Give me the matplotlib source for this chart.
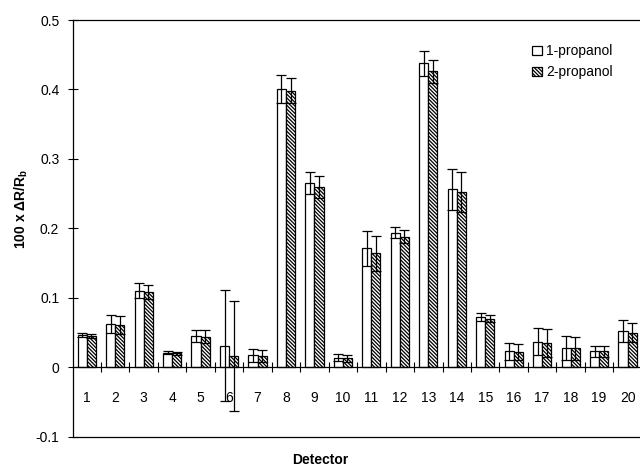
import matplotlib
matplotlib.use("Agg")
import matplotlib.pyplot as plt
import numpy as np

plt.rcParams['font.family'] = ['Liberation Sans', 'DejaVu Sans']
plt.rcParams['hatch.linewidth'] = 0.9
plt.rcParams['mathtext.default'] = 'regular'

detectors = list(range(1, 21))
prop1 = [0.046, 0.062, 0.110, 0.021, 0.045, 0.031, 0.017, 0.401, 0.265, 0.014,
         0.171, 0.194, 0.438, 0.256, 0.072, 0.023, 0.037, 0.028, 0.023, 0.052]
prop1_err = [0.003, 0.013, 0.011, 0.002, 0.009, 0.080, 0.009, 0.020, 0.016, 0.005,
             0.025, 0.008, 0.018, 0.029, 0.006, 0.012, 0.020, 0.017, 0.008, 0.016]
prop2 = [0.045, 0.061, 0.108, 0.020, 0.044, 0.016, 0.016, 0.398, 0.260, 0.013,
         0.164, 0.188, 0.426, 0.252, 0.070, 0.022, 0.035, 0.027, 0.023, 0.050]
prop2_err = [0.003, 0.013, 0.010, 0.002, 0.009, 0.079, 0.009, 0.018, 0.016, 0.005,
             0.025, 0.009, 0.017, 0.029, 0.005, 0.012, 0.020, 0.016, 0.008, 0.014]

fig = plt.figure(figsize=(6.4, 4.71), dpi=100)
ax = fig.add_axes([72.5 / 640, 34.3 / 471, 569.3 / 640, 416.7 / 471])

x = np.array(detectors)
w = 0.32
ax.bar(x - w / 2, prop1, w, color='white', edgecolor='black', linewidth=0.9,
       label='1-propanol', zorder=2)
ax.bar(x + w / 2, prop2, w, color='white', edgecolor='black', linewidth=0.9,
       hatch='\\' * 9, label='2-propanol', zorder=2)
ax.errorbar(x - w / 2, prop1, yerr=prop1_err, fmt='none', ecolor='black',
            elinewidth=0.9, capsize=3.5, capthick=0.9, zorder=3)
ax.errorbar(x + w / 2, prop2, yerr=prop2_err, fmt='none', ecolor='black',
            elinewidth=0.9, capsize=3.5, capthick=0.9, zorder=3)

ax.set_xlim(0.5, 20.5)
ax.set_ylim(-0.1, 0.5)

# zero line carries the category separators
ax.spines['bottom'].set_position(('data', 0))
ax.spines['right'].set_visible(False)
for s in ['bottom', 'left', 'top']:
    ax.spines[s].set_linewidth(0.9)
ax.axhline(-0.1, color='black', linewidth=0.9, clip_on=False)

ax.set_xticks(np.arange(1.5, 20.5, 1.0))
ax.set_xticklabels([])
ax.tick_params(axis='x', which='major', direction='inout', length=7, width=0.8)
ax.set_xticks(x, minor=True)
ax.set_xticklabels([str(d) for d in detectors], minor=True, fontsize=10)
ax.tick_params(axis='x', which='minor', length=0, pad=17)

yt = [-0.1, 0, 0.1, 0.2, 0.3, 0.4, 0.5]
ax.set_yticks(yt)
ax.set_yticklabels(['-0.1', '0', '0.1', '0.2', '0.3', '0.4', '0.5'], fontsize=10)
ax.tick_params(axis='y', direction='inout', length=7, width=0.8, pad=6)

fig.text(21 / 640, 1 - 209 / 471, r'100 x $\Delta$R/R$_{b}$', rotation=90,
         ha='center', va='center', fontsize=10, fontweight='bold')
fig.text(0.5, 0.024, 'Detector', ha='center', va='center', fontsize=10,
         fontweight='bold')

leg = ax.legend(loc='upper left', bbox_to_anchor=(454 / 569.3, 0.955), frameon=False,
                fontsize=10, handlelength=0.7, handleheight=0.7,
                handletextpad=0.3, labelspacing=0.5, borderaxespad=0)

fig.savefig('out.png', dpi=100)
